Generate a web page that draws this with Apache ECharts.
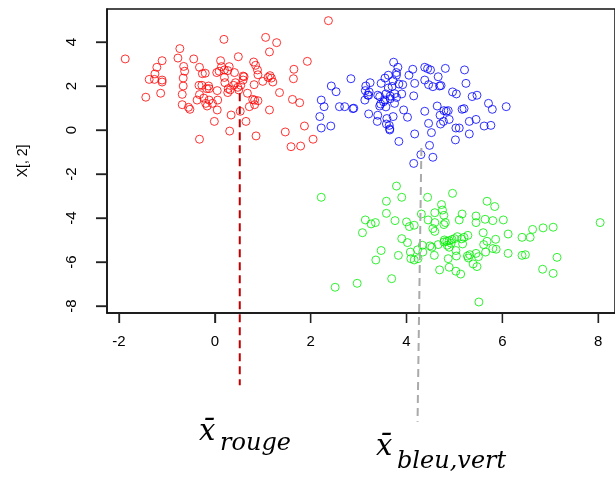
<!DOCTYPE html>
<html>
<head>
<meta charset="utf-8">
<script src="https://cdn.jsdelivr.net/npm/echarts@6/dist/echarts.min.js"></script>
<style>
  html, body { margin: 0; padding: 0; background: #fff; }
  #main { width: 615px; height: 477px; }
</style>
</head>
<body>
<div id="main"></div>
<script>
// points : [X[,1], X[,2]]
var redPoints = [
  [-1.87,3.23],[-1.44,1.49],[-1.37,2.30],[-1.25,2.55],[-1.21,2.85],[-1.10,3.15],[-1.10,2.27],[-1.10,2.18],[-1.26,2.30],[-1.13,1.67],
  [-0.73,3.70],[-0.77,3.27],[-0.65,2.89],[-0.63,2.67],[-0.66,2.36],[-0.66,2.00],[-0.68,1.62],[-0.68,1.15],[-0.55,1.03],[-0.52,0.94],
  [-0.44,3.23],[-0.32,2.85],[-0.26,2.56],[-0.20,2.58],[-0.33,2.03],[-0.27,2.03],[-0.17,1.88],[-0.12,1.88],[-0.32,1.61],[-0.37,1.36],
  [-0.19,1.21],[-0.16,1.09],[-0.12,1.36],[-0.05,1.21],[0.06,1.36],[0.05,0.91],[-0.32,-0.42],[-0.01,0.39],[0.05,1.79],[0.19,4.12],
  [0.12,3.15],[0.14,2.88],[0.04,2.61],[0.09,2.67],[0.20,2.73],[0.30,2.88],[0.27,2.70],[0.41,2.61],[0.20,2.39],[0.21,2.15],
  [0.28,1.88],[0.27,1.70],[0.32,1.82],[0.39,2.03],[0.43,2.15],[0.48,1.94],[0.50,1.82],[0.54,2.03],[0.59,2.27],[0.61,2.42],
  [0.49,3.33],[0.34,0.68],[0.31,-0.05],[0.53,0.85],[0.65,0.39],[0.68,1.67],[0.72,1.06],[0.79,1.39],[0.83,1.15],[0.90,1.33],
  [0.86,-0.27],[0.82,2.06],[0.81,3.09],[0.85,2.94],[0.89,2.73],[0.90,2.51],[1.06,4.21],[1.29,3.97],[1.14,3.55],[1.00,2.21],
  [1.11,2.39],[1.18,2.36],[1.21,2.18],[1.35,1.70],[1.14,0.91],[1.47,-0.09],[1.65,2.76],[1.64,2.33],[1.62,1.39],[1.77,1.24],
  [1.87,0.18],[1.93,3.12],[2.05,-0.42],[1.59,-0.76],[1.79,-0.73],[2.37,4.97],[-0.13,2.00],[-0.23,1.45],[0.59,2.45],[1.15,2.47],
  [0.83,1.36]
];
var bluePoints = [
  [3.73,3.08],[3.82,2.85],[3.79,2.61],[3.79,2.49],[3.72,2.24],[3.62,2.49],[3.55,2.36],[3.47,2.12],[3.24,2.15],[3.15,2.00],
  [3.22,1.73],[3.19,1.58],[3.13,1.36],[2.84,2.33],[2.43,2.00],[2.53,1.74],[2.22,1.36],[2.28,1.06],[2.60,1.06],[2.71,1.06],
  [2.88,0.97],[2.90,0.99],[2.19,0.61],[2.22,0.09],[2.42,0.18],[3.21,0.73],[3.40,0.67],[3.39,0.39],[3.59,0.52],[3.58,0.27],
  [3.64,0.21],[3.65,0.00],[3.72,0.61],[3.84,-0.52],[4.17,-0.18],[4.02,0.58],[3.94,0.91],[3.44,1.09],[3.55,1.36],[3.75,1.21],
  [3.66,1.42],[3.90,1.64],[4.15,1.55],[4.05,2.49],[4.13,2.76],[4.17,2.12],[4.38,2.85],[4.50,2.73],[4.44,2.79],[4.38,2.27],
  [4.46,2.06],[4.66,2.42],[4.69,2.00],[4.81,2.80],[5.21,2.73],[5.24,2.12],[4.96,1.73],[5.04,1.64],[5.37,1.52],[5.47,1.58],
  [5.71,1.21],[5.79,0.94],[6.08,1.06],[4.64,1.09],[4.78,0.88],[4.87,0.88],[4.83,0.85],[5.16,0.94],[5.20,0.97],[4.38,0.85],
  [4.70,0.67],[4.89,0.48],[4.77,0.39],[4.71,0.27],[4.46,0.30],[4.52,-0.12],[5.03,0.09],[5.10,0.09],[5.31,0.39],[5.45,0.48],
  [5.62,0.18],[5.76,0.21],[5.31,-0.18],[5.02,-0.45],[4.48,-0.70],[4.30,-1.12],[4.55,-1.24],[4.15,-1.52],[3.57,1.64],[3.44,1.52],
  [3.40,1.58],[3.84,2.09],[3.14,1.79],[3.21,1.58],[3.62,1.91],[3.70,1.98],[3.79,1.48],[3.75,1.65],[3.66,1.54],[3.52,1.28],
  [3.46,1.18],[3.57,1.05],[3.65,0.05],[3.92,2.06],[4.72,2.02],[4.55,1.97]
];
var greenPoints = [
  [2.22,-3.06],[3.79,-2.55],[3.90,-3.06],[3.58,-3.24],[3.58,-3.79],[3.14,-4.09],[3.26,-4.27],[3.35,-4.21],[3.08,-4.67],[3.76,-4.12],
  [4.00,-4.18],[4.06,-4.39],[4.16,-4.33],[4.44,-3.06],[4.96,-2.88],[4.73,-3.39],[4.75,-3.64],[4.59,-3.76],[4.78,-3.88],[4.31,-3.82],
  [4.45,-4.09],[4.59,-4.21],[4.81,-4.21],[4.78,-4.30],[5.16,-3.82],[5.10,-4.09],[5.45,-3.91],[5.45,-4.21],[5.64,-4.06],[5.80,-4.12],
  [6.02,-4.09],[5.68,-3.24],[5.84,-3.48],[8.04,-4.21],[6.63,-4.52],[6.85,-4.45],[7.06,-4.42],[6.41,-4.88],[6.58,-4.88],[6.12,-4.73],
  [5.86,-4.97],[5.60,-4.67],[5.68,-5.06],[5.61,-5.21],[5.80,-5.39],[5.87,-5.42],[6.12,-5.61],[6.41,-5.70],[6.48,-5.67],[7.14,-5.79],
  [6.84,-6.33],[7.06,-6.52],[5.51,-7.82],[5.28,-4.79],[5.20,-4.88],[5.06,-4.85],[5.00,-4.94],[4.89,-5.03],[4.84,-5.06],[4.78,-5.09],
  [4.85,-5.24],[4.89,-5.33],[4.66,-5.21],[4.49,-5.27],[4.53,-5.33],[4.33,-5.24],[4.23,-5.45],[4.08,-5.55],[4.34,-5.55],[4.02,-5.12],
  [3.90,-4.94],[3.47,-5.48],[3.36,-5.91],[3.83,-5.70],[4.09,-5.85],[4.16,-5.91],[4.24,-5.85],[4.58,-5.70],[4.87,-5.85],[5.03,-5.48],
  [5.04,-5.73],[5.27,-5.73],[5.29,-5.82],[5.32,-5.67],[5.45,-5.61],[5.50,-5.76],[5.39,-6.09],[5.47,-6.21],[5.65,-5.55],[4.69,-6.36],
  [4.89,-6.24],[5.03,-6.42],[5.13,-6.55],[3.69,-6.76],[2.97,-6.97],[2.51,-7.15],[5.17,-5.18],[4.93,-5.15],[4.55,-4.48],[4.59,-4.61],
  [4.79,-5.00],[4.95,-4.98],[5.15,-4.95]
];

// traits des moyennes (prolongés sous le graphique)
var redMeanLine = [[0.52, 1.67], [0.52, -11.6]];
var grayMeanLine = [[4.31, -0.82], [4.23, -13.26]];

var xTicks = [-2, 0, 2, 4, 6, 8];
var yTicks = [-8, -6, -4, -2, 0, 2, 4];

var X_MIN = -2.25, X_MAX = 8.35;
var Y_MIN = -8.32, Y_MAX = 5.5;

var myChart = echarts.init(document.getElementById('main'));

function cluster(data, color) {
    return {
        type: 'scatter',
        data: data,
        symbol: 'circle',
        symbolSize: 8,
        itemStyle: { color: 'rgba(0,0,0,0)', borderColor: color, borderWidth: 1 },
        silent: true
    };
}

function meanLine(data, color) {
    return {
        type: 'line',
        data: data,
        symbol: 'none',
        clip: false,
        silent: true,
        lineStyle: { color: color, width: 2, type: [8, 5] }
    };
}

// graduations façon R, tracées à partir de l'échelle des axes
function tickSeries(data, dx, dy) {
    return {
        type: 'custom',
        data: data,
        clip: false,
        silent: true,
        renderItem: function (params, api) {
            var p = api.coord([api.value(0), api.value(1)]);
            return {
                type: 'line',
                shape: { x1: p[0], y1: p[1], x2: p[0] + dx, y2: p[1] + dy },
                style: { stroke: '#222', lineWidth: 1.3 }
            };
        }
    };
}

var option = {
    backgroundColor: '#fff',
    animation: false,
    grid: {
        left: 107, top: 9, right: -4, bottom: 164,
        show: true, borderColor: '#111', borderWidth: 1.5
    },
    xAxis: {
        type: 'value',
        min: X_MIN,
        max: X_MAX,
        axisLine: { show: true, onZero: false, lineStyle: { color: '#111', width: 1.5 } },
        splitLine: { show: false },
        axisTick: { show: true, length: 10, customValues: xTicks, lineStyle: { color: '#222', width: 1.3 } },
        axisLabel: { customValues: xTicks, margin: 21, color: '#000', fontSize: 15, fontFamily: 'Liberation Sans' }
    },
    yAxis: {
        type: 'value',
        min: Y_MIN,
        max: Y_MAX,
        name: 'X[, 2]',
        nameLocation: 'middle',
        nameGap: 77,
        nameRotate: 90,
        nameTextStyle: { color: '#000', fontSize: 14, fontFamily: 'Liberation Sans' },
        axisLine: { show: true, onZero: false, lineStyle: { color: '#111', width: 1.5 } },
        splitLine: { show: false },
        axisTick: { show: true, length: 11, customValues: yTicks, lineStyle: { color: '#222', width: 1.3 } },
        axisLabel: { customValues: yTicks, rotate: 90, margin: 28, color: '#000', fontSize: 15, fontFamily: 'Liberation Sans' }
    },
    graphic: [
        { type: 'text', left: 199, top: 418, style: { text: 'x\u0304', font: 'italic 29px "DejaVu Serif"', fill: '#000' } },
        { type: 'text', left: 220, top: 432, style: { text: 'rouge', font: 'italic 24px "DejaVu Serif"', fill: '#000' } },
        { type: 'text', left: 376, top: 433, style: { text: 'x\u0304', font: 'italic 29px "DejaVu Serif"', fill: '#000' } },
        { type: 'text', left: 397, top: 450, style: { text: 'bleu,vert', font: 'italic 24px "DejaVu Serif"', fill: '#000' } }
    ],
    series: [
        cluster(redPoints, '#ff0000'),
        cluster(bluePoints, '#0000ff'),
        cluster(greenPoints, '#00ee00'),
        meanLine(redMeanLine, '#c00000'),
        meanLine(grayMeanLine, '#aaaaaa'),
        tickSeries(xTicks.map(function (v) { return [v, Y_MIN]; }), 0, 10),
        tickSeries(yTicks.map(function (v) { return [X_MIN, v]; }), -11, 0)
    ]
};

myChart.setOption(option);
</script>
</body>
</html>
